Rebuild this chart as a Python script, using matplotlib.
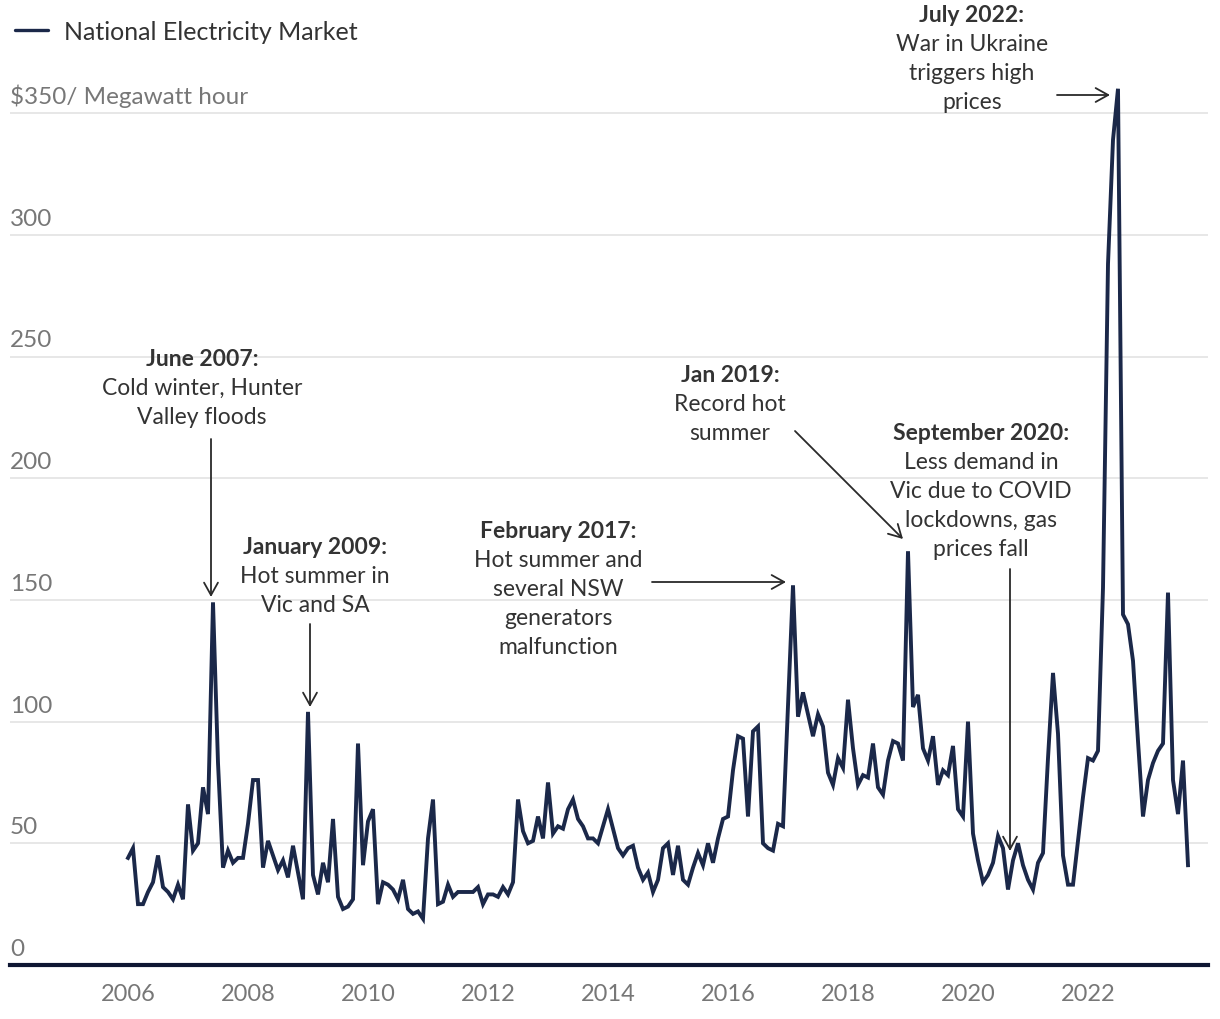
import matplotlib
matplotlib.use("Agg")
import matplotlib.pyplot as plt
import numpy as np
import pandas as pd

plt.rcParams['font.family'] = ['Lato', 'DejaVu Sans']

# ---------------- data ----------------
series_name = "National Electricity Market"
start_month = "2006-01"
prices = [
    44, 48, 25, 25, 30, 34, 45, 32, 30, 27, 33, 27,          # 2006
    66, 47, 50, 73, 62, 149, 83, 40, 47, 42, 44, 44,         # 2007
    58, 76, 76, 40, 51, 45, 39, 43, 36, 49, 38, 27,          # 2008
    104, 37, 29, 42, 34, 60, 28, 23, 24, 27, 91, 41,         # 2009
    59, 64, 25, 34, 33, 31, 27, 35, 23, 21, 22, 19,          # 2010
    52, 68, 25, 26, 33, 28, 30, 30, 30, 30, 32, 25,          # 2011
    29, 29, 28, 32, 29, 34, 68, 55, 50, 51, 61, 52,          # 2012
    75, 54, 57, 56, 64, 68, 60, 57, 52, 52, 50, 57,          # 2013
    64, 56, 48, 45, 48, 49, 40, 35, 38, 30, 35, 48,          # 2014
    50, 37, 49, 35, 33, 40, 46, 41, 50, 42, 52, 60,          # 2015
    61, 80, 94, 93, 61, 96, 98, 50, 48, 47, 58, 57,          # 2016
    106, 156, 102, 112, 103, 94, 103, 98, 79, 74, 85, 81,    # 2017
    109, 89, 74, 78, 77, 91, 73, 70, 84, 92, 91, 84,         # 2018
    170, 106, 111, 89, 84, 94, 74, 80, 78, 90, 64, 61,       # 2019
    100, 54, 43, 34, 37, 42, 53, 48, 31, 43, 50, 41,         # 2020
    35, 31, 42, 46, 85, 120, 95, 45, 33, 33, 51, 69,         # 2021
    85, 84, 88, 155, 288, 339, 360, 144, 140, 125, 92, 61,   # 2022
    76, 83, 88, 91, 153, 76, 62, 84, 41,                     # 2023
]
year_ticks = [2006, 2008, 2010, 2012, 2014, 2016, 2018, 2020, 2022]
y_ticks = [0, 50, 100, 150, 200, 250, 300, 350]
y_labels = ["0", "50", "100", "150", "200", "250", "300", "$350/ Megawatt hour"]

annotations = [
    ("June 2007:", ["Cold winter, Hunter", "Valley floods"]),
    ("January 2009:", ["Hot summer in", "Vic and SA"]),
    ("February 2017:", ["Hot summer and", "several NSW", "generators", "malfunction"]),
    ("Jan 2019:", ["Record hot", "summer"]),
    ("September 2020:", ["Less demand in", "Vic due to COVID", "lockdowns, gas", "prices fall"]),
    ("July 2022:", ["War in Ukraine", "triggers high", "prices"]),
]

dates = pd.date_range(start_month, periods=len(prices), freq="MS")
xvals = dates.year + (dates.month - 1) / 12.0

# ---------------- figure ----------------
W, H = 1220, 1020
fig = plt.figure(figsize=(W / 100, H / 100), dpi=100)
ax = fig.add_axes([10 / W, (H - 966) / H, 1198 / W, 925 / H])

LINE = "#1b2849"
TXT = "#333333"
GRAY = "#777777"

ax.plot(xvals, prices, color=LINE, lw=2.8, solid_joinstyle="miter", zorder=3)

ax.set_xlim(2006 + (10 - 128) / 60, 2006 + (1208 - 128) / 60)
ax.set_ylim(0, 925 / 2.434)

for s in ["top", "right", "left"]:
    ax.spines[s].set_visible(False)
ax.spines["bottom"].set_color("#0e1733")
ax.spines["bottom"].set_linewidth(3.0)
ax.spines["bottom"].set_zorder(4)

ax.set_yticks(y_ticks[1:])
ax.set_yticklabels([])
ax.yaxis.grid(True, color="#e3e3e3", lw=1.2)
ax.tick_params(axis="y", length=0)
ax.set_axisbelow(True)

ax.set_xticks(year_ticks)
ax.set_xticklabels([str(y) for y in year_ticks])
ax.tick_params(axis="x", length=0, pad=13, labelsize=17, labelcolor=GRAY)

for v, lbl in zip(y_ticks, y_labels):
    ax.annotate(lbl, xy=(0, v), xycoords=("axes fraction", "data"),
                xytext=(0, 10), textcoords="offset pixels",
                ha="left", va="baseline", fontsize=17.5, color=GRAY,
                annotation_clip=False)

# legend
fig.lines.append(plt.Line2D([15 / W, 48 / W], [1 - 31 / H, 1 - 31 / H],
                            transform=fig.transFigure, color=LINE, lw=2.4,
                            solid_capstyle="round"))
fig.text(64 / W, 1 - 31 / H, series_name, ha="left", va="center_baseline",
         fontsize=18, color=TXT)


def px2d(px, py):
    return 2006 + (px - 128) / 60, (966 - py) / 2.434


text_pos = [(202, 358), (315, 546), (558, 530), (730, 374), (981, 432), (972, 14)]
arrows = [((211, 440), (211, 598)), ((310, 625), (310, 708)),
          ((652, 583), (786, 583)), ((795, 432), (903, 540)),
          ((1010, 570), (1010, 852)), ((1057, 96), (1110, 96))]
LS = 28.8
FS = 16.5
for (head, body), tp, (a0, a1) in zip(annotations, text_pos, arrows):
    xy = px2d(*tp)
    ax.annotate(head, xy=xy, xytext=(0, 0), textcoords="offset pixels",
                ha="center", va="center_baseline", fontsize=FS,
                fontweight="bold", color=TXT, annotation_clip=False)
    for i, line in enumerate(body):
        ax.annotate(line, xy=xy, xytext=(0, -(i + 1) * LS), textcoords="offset pixels",
                    ha="center", va="center_baseline", fontsize=FS,
                    color=TXT, annotation_clip=False)
    ax.annotate("", xy=px2d(*a1), xytext=px2d(*a0),
                arrowprops=dict(arrowstyle="->,head_length=0.45,head_width=0.25",
                                color="#2a2a2a", lw=1.3, shrinkA=0, shrinkB=0,
                                mutation_scale=20),
                annotation_clip=False)

fig.savefig("out.png", dpi=100)
